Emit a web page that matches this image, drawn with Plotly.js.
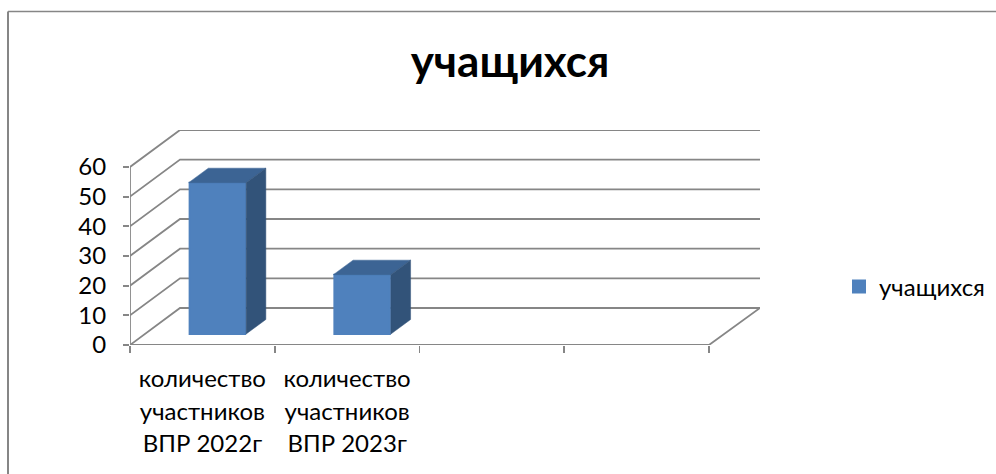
<!DOCTYPE html>
<html>
<head>
<meta charset="utf-8">
<script src="https://cdn.plot.ly/plotly-3.0.1.min.js"></script>
<style>html,body{margin:0;padding:0;background:#fff}#c{width:996px;height:474px}</style>
</head>
<body>
<div id="c"></div>
<script>
const chartTitle = 'учащихся';
const seriesName = 'учащихся';
const categoryLines = [
  ['количество', 'участников', 'ВПР 2022г'],
  ['количество', 'участников', 'ВПР 2023г']
];
const seriesValues = [51, 20];
const valueTicks = [0, 10, 20, 30, 40, 50, 60];
const categorySlots = [0, 1, 2, 3, 4];

const FONT = 'Lato, "Open Sans", sans-serif';
const GREY = '#868686';
const W = 996, H = 474;
// pixel frame of the oblique plot
const L = 130, R = 760, B = 345, T = 130;
const pxPerCat = 144.75, pxPerVal = 2.967;
const xMax = (R - L) / pxPerCat, yMax = (B - T) / pxPerVal;
const wallDx = 50 / pxPerCat, wallDy = 37 / pxPerVal;
const baseDx = 15 / pxPerCat, baseDy = 11 / pxPerVal;
const barDx = 19.7 / pxPerCat, barDy = 14.5 / pxPerVal;
const barW = 55.5 / pxPerCat;

const traces = [];
function gridLine(xs, ys) {
  traces.push({type: 'scatter', mode: 'lines', x: xs, y: ys, xaxis: 'x', yaxis: 'y', cliponaxis: false,
    line: {color: GREY, width: 1.8}, showlegend: false, hoverinfo: 'skip'});
}
valueTicks.forEach(v => gridLine([0, wallDx, xMax], [v, v + wallDy, v + wallDy]));
gridLine([0, 0], [0, valueTicks[valueTicks.length - 1]]);
gridLine([0, categorySlots[categorySlots.length - 1], xMax], [0, 0, wallDy]);

const centers = seriesValues.map((_, i) => i + 0.5);
traces.push({type: 'bar', name: seriesName, x: centers.map(c => c + baseDx), y: seriesValues,
  base: seriesValues.map(() => baseDy), width: barW, xaxis: 'x2', yaxis: 'y2',
  marker: {color: '#4F81BD', line: {color: '#4F81BD', width: 2}}, showlegend: true});
seriesValues.forEach((v, i) => {
  const xl = centers[i] + baseDx - barW / 2 - 1 / pxPerCat, xr = centers[i] + baseDx + barW / 2 + 1 / pxPerCat;
  const yb = baseDy, yt = baseDy + v;
  traces.push({type: 'scatter', mode: 'lines', fill: 'toself', fillcolor: '#3C6494', cliponaxis: false,
    x: [xl, xr, xr + barDx, xl + barDx, xl], y: [yt, yt, yt + barDy, yt + barDy, yt],
    xaxis: 'x2', yaxis: 'y2', line: {color: '#3C6494', width: 0.5}, showlegend: false, hoverinfo: 'skip'});
  traces.push({type: 'scatter', mode: 'lines', fill: 'toself', fillcolor: '#325379', cliponaxis: false,
    x: [xr, xr + barDx, xr + barDx, xr, xr], y: [yb, yb + barDy, yt + barDy, yt, yb],
    xaxis: 'x2', yaxis: 'y2', line: {color: '#325379', width: 0.5}, showlegend: false, hoverinfo: 'skip'});
});

const tickLabels = categoryLines.map(lines =>
  lines.map(s => '<span style="font-size:24px">' + s + '</span>').join('<br>'));

const domainX = [L / W, R / W], domainY = [(H - B) / H, (H - T) / H];
const layout = {
  width: W, height: H,
  margin: {l: 0, r: 0, t: 0, b: 0},
  paper_bgcolor: '#fff', plot_bgcolor: 'rgba(0,0,0,0)',
  font: {family: FONT, color: '#000'},
  title: {text: chartTitle, font: {family: FONT, size: 44, weight: 700, color: '#000'},
    x: 510 / W, xanchor: 'center', y: 1 - 62 / H, yanchor: 'middle'},
  xaxis: {domain: domainX, range: [0, xMax], tickmode: 'array', tickvals: categorySlots, ticktext: categorySlots.map(() => ''),
    ticks: 'outside', ticklen: 7, tickwidth: 1.8, tickcolor: GREY, showgrid: false, zeroline: false, showline: false, anchor: 'y'},
  yaxis: {domain: domainY, range: [0, yMax], tickmode: 'array', tickvals: valueTicks,
    ticks: 'outside', ticklen: 6, tickwidth: 1.8, tickcolor: GREY, showgrid: false, zeroline: false, showline: false,
    ticklabelstandoff: 12,
    tickfont: {family: FONT, size: 24, color: '#000'}, anchor: 'x'},
  xaxis2: {overlaying: 'x', range: [0, xMax], tickmode: 'array', tickvals: centers, ticktext: tickLabels,
    ticks: '', ticklen: 0, showgrid: false, zeroline: false, showline: false, side: 'bottom', anchor: 'y2',
    ticklabelstandoff: 16,
    tickangle: 0, tickfont: {family: FONT, size: 25, color: '#000'}},
  yaxis2: {overlaying: 'y', range: [0, yMax], visible: false, anchor: 'x2'},
  showlegend: true,
  legend: {x: 839 / W, xanchor: 'left', y: 1 - 287 / H, yanchor: 'middle', bgcolor: 'rgba(0,0,0,0)',
    font: {family: FONT, size: 24, color: '#000'}},
  shapes: [
    {type: 'line', xref: 'paper', yref: 'paper', x0: 8 / W, x1: 1, y0: 1 - 11.5 / H, y1: 1 - 11.5 / H, line: {color: GREY, width: 1.5}},
    {type: 'line', xref: 'paper', yref: 'paper', x0: 8 / W, x1: 8 / W, y0: 0, y1: 1 - 11.5 / H, line: {color: GREY, width: 2}}
  ]
};
Plotly.newPlot('c', traces, layout, {displayModeBar: false, staticPlot: true});
</script>
</body>
</html>
